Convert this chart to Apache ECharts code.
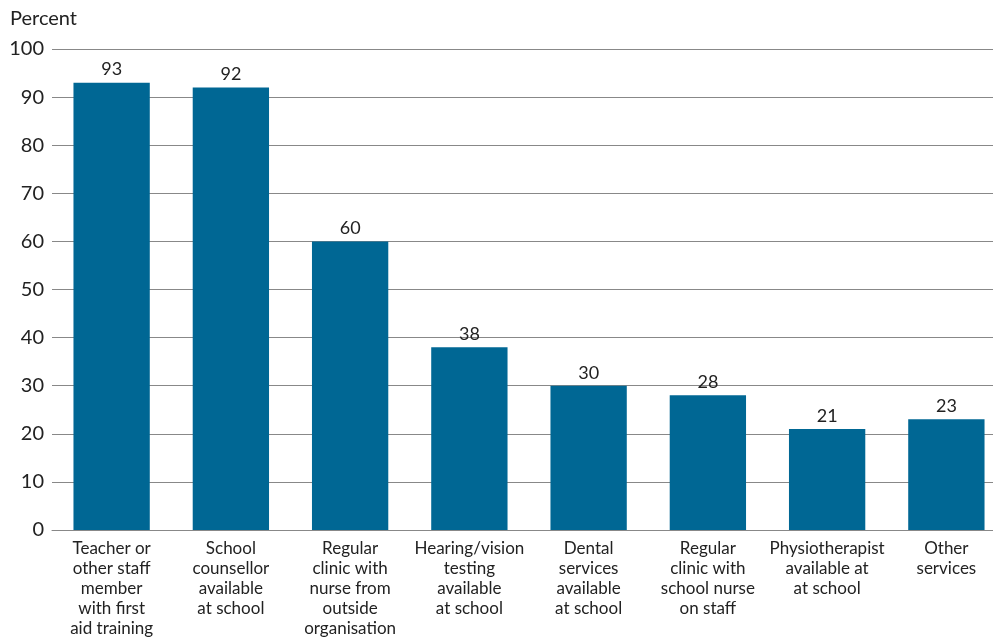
<!DOCTYPE html>
<html>
<head>
<meta charset="utf-8">
<script src="https://cdn.jsdelivr.net/npm/echarts@6/dist/echarts.min.js"></script>
<style>
  html, body { margin: 0; padding: 0; background: #fff; overflow: hidden; }
  #chart { width: 1006px; height: 639px; }
</style>
</head>
<body>
<div id="chart"></div>
<script>
var categories = [
  'Teacher or\nother staff\nmember\nwith first\naid training',
  'School\ncounsellor\navailable\nat school',
  'Regular\nclinic with\nnurse from\noutside\norganisation',
  'Hearing/vision\ntesting\navailable\nat school',
  'Dental\nservices\navailable\nat school',
  'Regular\nclinic with\nschool nurse\non staff',
  'Physiotherapist\navailable at\nat school',
  'Other\nservices'
];
var percentValues = [93, 92, 60, 38, 30, 28, 21, 23];
var yTicks = [0, 10, 20, 30, 40, 50, 60, 70, 80, 90, 100];

var FONT = 'Lato';
var chart = echarts.init(document.getElementById('chart'));
chart.setOption({
  animation: false,
  grid: { left: 52, right: 0, top: 49, height: 482 },
  graphic: [{
    type: 'text', left: 10, top: 9,
    style: { text: 'Percent', font: '20px ' + FONT, fill: '#222' }
  }],
  xAxis: {
    type: 'category',
    data: categories,
    axisTick: { show: false },
    axisLine: { show: true, lineStyle: { color: '#888', width: 1 } },
    axisLabel: {
      interval: 0, margin: 9, color: '#222',
      fontFamily: FONT, fontSize: 17, lineHeight: 20
    }
  },
  yAxis: {
    type: 'value', min: yTicks[0], max: yTicks[yTicks.length - 1], interval: 10,
    axisLine: { show: false },
    axisTick: { show: false },
    splitLine: { lineStyle: { color: '#888', width: 1 } },
    axisLabel: { color: '#222', fontFamily: FONT, fontSize: 20, margin: 8 }
  },
  series: [{
    type: 'bar',
    data: percentValues,
    barCategoryGap: '36%',
    itemStyle: { color: '#006794' },
    label: {
      show: true, position: 'top', distance: 4,
      color: '#222', fontFamily: FONT, fontSize: 18
    }
  }]
});
</script>
</body>
</html>
